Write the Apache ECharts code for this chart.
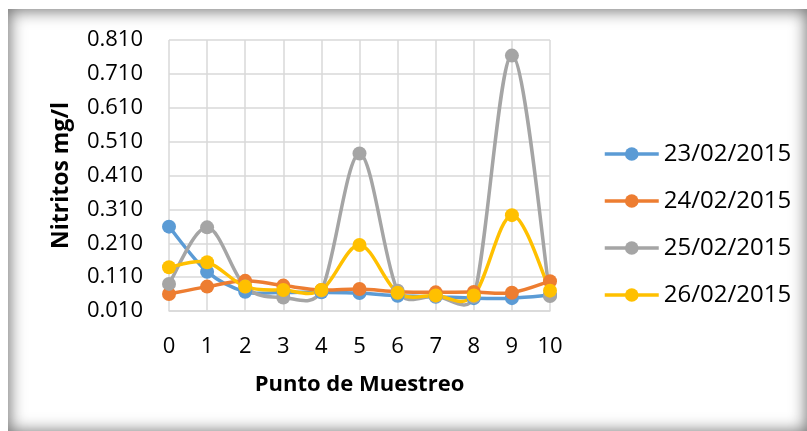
<!DOCTYPE html>
<html>
<head>
<meta charset="utf-8">
<script src="https://cdn.jsdelivr.net/npm/echarts@6/dist/echarts.min.js"></script>
<style>
  html, body { margin: 0; padding: 0; background: #ffffff; }
  #frame { position: absolute; left: 8px; top: 9px; width: 800px; height: 424px;
           background: #ffffff; box-shadow: inset 0 0 16px 2px rgba(0,0,0,0.55); }
  #chart { position: absolute; left: 0; top: 0; width: 807px; height: 431px; }
</style>
</head>
<body>
<div id="frame"></div>
<div id="chart"></div>
<script>
const categories = ['0', '1', '2', '3', '4', '5', '6', '7', '8', '9', '10'];
const seriesNames = ['23/02/2015', '24/02/2015', '25/02/2015', '26/02/2015'];
const s23 = [0.259, 0.126, 0.067, 0.065, 0.065, 0.063, 0.055, 0.052, 0.048, 0.048, 0.057];
const s24 = [0.060, 0.082, 0.099, 0.085, 0.072, 0.075, 0.067, 0.065, 0.066, 0.064, 0.098];
const s25 = [0.090, 0.257, 0.082, 0.050, 0.070, 0.475, 0.070, 0.054, 0.052, 0.764, 0.054];
const s26 = [0.139, 0.154, 0.082, 0.072, 0.072, 0.205, 0.064, 0.056, 0.056, 0.293, 0.070];
const yMin = 0.010, yMax = 0.810, yStep = 0.1;
const xTitle = 'Punto de Muestreo';
const yTitle = 'Nitritos mg/l';

const colors = ['#5B9BD5', '#ED7D31', '#A5A5A5', '#FFC000'];
const allData = [s23, s24, s25, s26];
const font = 'Open Sans';
const LW = 3.5;

// Excel-like smoothed curve (Bezier, tangent from neighbours, control length limited
// to half the segment), drawn through the axes' scales with api.coord.
function makeCurveRenderer(arr, color) {
  return function (params, api) {
    const i = params.dataIndex;
    const n = arr.length;
    if (i >= n - 1) return null;
    const P = k => { const c = Math.max(0, Math.min(n - 1, k)); return api.coord([c, arr[c]]); };
    const p0 = P(i - 1), p1 = P(i), p2 = P(i + 1), p3 = P(i + 2);
    const dist = (a, b) => Math.hypot(b[0] - a[0], b[1] - a[1]);
    const d12 = dist(p1, p2);
    const d02 = dist(p0, p2) || 1, d13 = dist(p1, p3) || 1;
    const l1 = Math.min(d02 / 6, d12 / 2), l2 = Math.min(d13 / 6, d12 / 2);
    return {
      type: 'bezierCurve',
      shape: {
        x1: p1[0], y1: p1[1], x2: p2[0], y2: p2[1],
        cpx1: p1[0] + (p2[0] - p0[0]) / d02 * l1, cpy1: p1[1] + (p2[1] - p0[1]) / d02 * l1,
        cpx2: p2[0] - (p3[0] - p1[0]) / d13 * l2, cpy2: p2[1] - (p3[1] - p1[1]) / d13 * l2
      },
      style: { stroke: color, lineWidth: LW, fill: null, lineCap: 'round', lineJoin: 'round' },
      silent: true
    };
  };
}

const series = [];
seriesNames.forEach((name, i) => {
  series.push({
    name: name + ' curve',
    type: 'custom',
    renderItem: makeCurveRenderer(allData[i], colors[i]),
    data: allData[i].map((v, k) => [k, v]),
    encode: { x: 0, y: 1 },
    clip: false
  });
  series.push({
    name: name,
    type: 'line',
    data: allData[i],
    symbol: 'circle',
    symbolSize: 14,
    showAllSymbol: true,
    lineStyle: { width: LW, color: colors[i], opacity: 0 },
    itemStyle: { color: colors[i] }
  });
});

const chart = echarts.init(document.getElementById('chart'), null, { renderer: 'canvas' });
chart.setOption({
  animation: false,
  backgroundColor: 'transparent',
  color: colors,
  textStyle: { fontFamily: font },
  grid: { left: 169, right: 257, top: 40, bottom: 120, containLabel: false },
  legend: {
    orient: 'vertical',
    left: 598, top: 136,
    itemWidth: 54, itemHeight: 17, itemGap: 21,
    data: seriesNames.map((n, i) => ({
      name: n,
      lineStyle: { color: colors[i], width: LW, opacity: 1 },
      itemStyle: { color: colors[i] }
    })),
    textStyle: { fontSize: 24, color: '#000', fontFamily: font, lineHeight: 26 }
  },
  xAxis: {
    type: 'category',
    data: categories,
    boundaryGap: false,
    name: xTitle,
    nameLocation: 'middle',
    nameGap: 63,
    nameTextStyle: { fontSize: 22, fontWeight: 'bold', color: '#000', fontFamily: font },
    axisLine: { show: true, lineStyle: { color: '#d9d9d9', width: 1.5 } },
    axisTick: { show: false },
    axisLabel: { margin: 25, fontSize: 22, color: '#000', fontFamily: font },
    splitLine: { show: true, lineStyle: { color: '#d9d9d9', width: 1.5 } }
  },
  yAxis: {
    type: 'value',
    min: yMin, max: yMax, interval: yStep,
    name: yTitle,
    nameLocation: 'middle',
    nameGap: 96,
    nameTextStyle: { fontSize: 23, fontWeight: 'bold', color: '#000', fontFamily: font },
    axisLine: { show: false },
    axisTick: { show: false },
    axisLabel: { margin: 26, fontSize: 22, color: '#000', fontFamily: font,
                 formatter: v => v.toFixed(3) },
    splitLine: { show: true, lineStyle: { color: '#d9d9d9', width: 1.5 } }
  },
  series: series
});
</script>
</body>
</html>
